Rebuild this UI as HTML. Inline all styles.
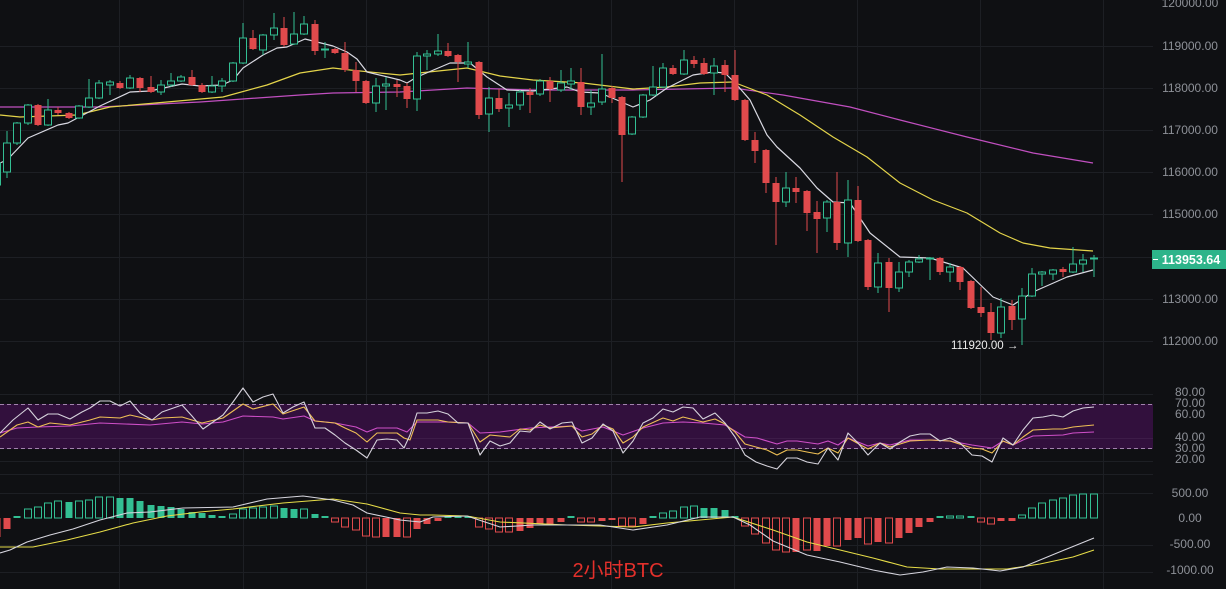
<!DOCTYPE html>
<html><head><meta charset="utf-8"><style>
html,body{margin:0;padding:0;background:#0f1013;}
svg{display:block;}
text{font-family:"Liberation Sans","Noto Sans CJK SC",sans-serif;}
</style></head><body>
<svg width="1226" height="589" viewBox="0 0 1226 589" xmlns="http://www.w3.org/2000/svg">
<rect x="0" y="0" width="1226" height="589" fill="#0f1013"/>
<!-- grid -->
<g stroke="#1d1f24" stroke-width="1">
<path d="M0 46.5H1153M0 88.5H1153M0 130.5H1153M0 172.5H1153M0 214.5H1153M0 257.5H1153M0 299.5H1153M0 341.5H1153"/>
<path d="M0 394.5H1153M0 438.5H1153M0 461.5H1153M0 474.5H1153M0 493.5H1153M0 545.5H1153M0 572.5H1153"/>
<path d="M119.5 0V589M243.5 0V589M366.5 0V589M488.5 0V589M611.5 0V589M734.5 0V589M857.5 0V589M980.5 0V589M1103.5 0V589"/>
</g>
<!-- RSI band -->
<rect x="0" y="404" width="1153" height="45" fill="#32103d"/>
<line x1="0" y1="438.5" x2="1153" y2="438.5" stroke="#3d1c48" stroke-width="1"/>
<g stroke="#a283ad" stroke-width="1" stroke-dasharray="4,3">
<line x1="0" y1="404.5" x2="1153" y2="404.5"/>
<line x1="0" y1="448.5" x2="1153" y2="448.5"/>
</g>

<!-- MA lines -->
<g fill="none" stroke-width="1.2" stroke-linejoin="round">
<polyline stroke="#c14fc0" points="0,107 100,107 200,102 300,95 333,93 400,92 467,88 533,90 633,90 733,88 783,95 850,107 900,120 967,137 1033,153 1093,163"/>
<polyline stroke="#e4d44a" points="0,115 20,117 77,115 110,107 167,102 223,97 267,85 300,73 333,68 350,70 400,75 467,68 500,76 533,80 583,83 633,89 667,87 700,83 733,82 767,95 800,115 833,137 867,157 900,183 933,200 967,213 1000,233 1023,243 1050,248 1093,251"/>
<polyline stroke="#d9d9e2" points="0,163 7,160 28,138 58,125 68,123 100,106 130,92 150,91 182,84 200,86 222,85 233,80 243,68 263,55 277,48 287,47 305,39 333,46 347,52 357,59 367,72 400,80 407,83 417,77 450,63 470,63 487,77 507,90 533,91 567,87 580,92 600,93 617,100 633,107 650,100 667,88 693,75 713,72 725,73 737,85 750,100 767,135 777,147 800,168 817,188 833,202 850,203 870,233 900,257 930,258 963,268 993,297 1013,305 1033,292 1067,277 1093,270"/>
</g>

<!-- candles: green -->
<path fill="none" stroke="#33bf93" stroke-width="1" d="M-3 160V188M7 131V178M17 122V145M28 104V125M48 99V126M79 105V119M89 79V108M99 80V99M110 80V95M130 75V89M161 80V95M171 73V87M181 75V82M212 76V93M222 78V92M233 62V82M243 23V64M263 34V55M274 13V40M294 12V45M304 16V35M325 42V58M376 78V112M386 77V110M417 52V111M427 50V70M438 34V56M468 42V68M489 87V132M509 93V127M520 90V110M540 79V96M561 70V92M571 68V90M591 90V115M602 54V105M632 116V135M643 94V118M653 66V96M663 63V88M684 50V75M714 58V95M786 172V207M827 200V232M848 180V257M878 253V293M899 262V292M909 260V277M919 255V263M930 257V280M950 263V282M1001 298V338M1022 288V345M1032 268V297M1042 271V286M1053 269V280M1073 247V273M1083 254V272M1094 255V277"/>
<g fill="#0f1013" stroke="#33bf93" stroke-width="1">
<rect x="-6.5" y="163" width="7" height="22"/><rect x="3.5" y="143" width="7" height="29"/><rect x="13.5" y="123" width="7" height="20"/><rect x="24.5" y="105" width="7" height="18"/><rect x="44.5" y="110" width="7" height="15"/><rect x="75.5" y="106" width="7" height="12"/><rect x="85.5" y="98" width="7" height="9"/><rect x="95.5" y="83" width="7" height="15"/><rect x="106.5" y="82" width="7" height="3"/><rect x="126.5" y="78" width="7" height="10"/><rect x="157.5" y="85" width="7" height="7"/><rect x="167.5" y="81" width="7" height="4"/><rect x="177.5" y="77" width="7" height="4"/><rect x="208.5" y="86" width="7" height="6"/><rect x="218.5" y="81" width="7" height="5"/><rect x="229.5" y="63" width="7" height="18"/><rect x="239.5" y="38" width="7" height="25"/><rect x="259.5" y="35" width="7" height="15"/><rect x="270.5" y="28" width="7" height="7"/><rect x="290.5" y="34" width="7" height="10"/><rect x="300.5" y="24" width="7" height="10"/><rect x="321.5" y="49" width="7" height="1"/><rect x="372.5" y="86" width="7" height="17"/><rect x="382.5" y="84" width="7" height="2"/><rect x="413.5" y="56" width="7" height="43"/><rect x="423.5" y="54" width="7" height="2"/><rect x="434.5" y="51" width="7" height="3"/><rect x="464.5" y="62" width="7" height="2"/><rect x="485.5" y="98" width="7" height="16"/><rect x="505.5" y="105" width="7" height="3"/><rect x="516.5" y="92" width="7" height="13"/><rect x="536.5" y="81" width="7" height="13"/><rect x="557.5" y="83" width="7" height="7"/><rect x="567.5" y="81" width="7" height="3"/><rect x="587.5" y="103" width="7" height="4"/><rect x="598.5" y="89" width="7" height="13"/><rect x="628.5" y="117" width="7" height="17"/><rect x="639.5" y="95" width="7" height="22"/><rect x="649.5" y="87" width="7" height="8"/><rect x="659.5" y="68" width="7" height="19"/><rect x="680.5" y="60" width="7" height="14"/><rect x="710.5" y="66" width="7" height="7"/><rect x="782.5" y="188" width="7" height="14"/><rect x="823.5" y="202" width="7" height="16"/><rect x="844.5" y="200" width="7" height="43"/><rect x="874.5" y="263" width="7" height="24"/><rect x="895.5" y="272" width="7" height="16"/><rect x="905.5" y="262" width="7" height="10"/><rect x="915.5" y="259" width="7" height="3"/><rect x="926.5" y="258" width="7" height="1"/><rect x="946.5" y="267" width="7" height="5"/><rect x="997.5" y="307" width="7" height="26"/><rect x="1018.5" y="296" width="7" height="23"/><rect x="1028.5" y="274" width="7" height="22"/><rect x="1038.5" y="272" width="7" height="2"/><rect x="1049.5" y="270" width="7" height="4"/><rect x="1069.5" y="264" width="7" height="8"/><rect x="1079.5" y="260" width="7" height="4"/><rect x="1090.5" y="258" width="7" height="1"/>
</g>
<!-- candles: red -->
<path fill="none" stroke="#e04a4c" stroke-width="1" d="M38 104V126M58 107V115M69 112V119M120 81V89M140 77V92M151 76V93M192 70V86M202 83V93M253 30V50M284 17V47M315 20V55M335 48V54M345 42V72M356 62V92M366 80V104M397 80V97M407 83V108M448 43V57M458 54V82M479 61V119M499 89V112M530 88V113M550 77V102M581 68V115M612 86V103M622 96V182M673 65V75M694 56V68M704 58V75M725 60V92M735 50V101M745 99V141M755 132V163M766 149V193M776 177V245M796 177V203M807 190V231M817 201V253M837 172V250M858 186V242M868 239V290M889 258V312M940 257V275M960 266V290M971 280V309M981 287V317M991 303V340M1012 300V330M1063 267V277"/>
<g fill="#e04a4c">
<rect x="34.5" y="105" width="7" height="20"/><rect x="54.5" y="110" width="7" height="3"/><rect x="65.5" y="113" width="7" height="5"/><rect x="116.5" y="83" width="7" height="5"/><rect x="136.5" y="78" width="7" height="10"/><rect x="147.5" y="87" width="7" height="5"/><rect x="188.5" y="77" width="7" height="8"/><rect x="198.5" y="85" width="7" height="7"/><rect x="249.5" y="38" width="7" height="11"/><rect x="280.5" y="28" width="7" height="17"/><rect x="311.5" y="24" width="7" height="27"/><rect x="331.5" y="49" width="7" height="4"/><rect x="341.5" y="53" width="7" height="17"/><rect x="352.5" y="70" width="7" height="11"/><rect x="362.5" y="81" width="7" height="22"/><rect x="393.5" y="84" width="7" height="3"/><rect x="403.5" y="86" width="7" height="13"/><rect x="444.5" y="51" width="7" height="5"/><rect x="454.5" y="55" width="7" height="7"/><rect x="475.5" y="62" width="7" height="53"/><rect x="495.5" y="98" width="7" height="11"/><rect x="526.5" y="92" width="7" height="3"/><rect x="546.5" y="81" width="7" height="8"/><rect x="577.5" y="82" width="7" height="25"/><rect x="608.5" y="88" width="7" height="10"/><rect x="618.5" y="97" width="7" height="38"/><rect x="669.5" y="68" width="7" height="6"/><rect x="690.5" y="60" width="7" height="4"/><rect x="700.5" y="63" width="7" height="11"/><rect x="721.5" y="65" width="7" height="10"/><rect x="731.5" y="75" width="7" height="25"/><rect x="741.5" y="100" width="7" height="40"/><rect x="751.5" y="140" width="7" height="11"/><rect x="762.5" y="150" width="7" height="33"/><rect x="772.5" y="183" width="7" height="19"/><rect x="792.5" y="188" width="7" height="4"/><rect x="803.5" y="191" width="7" height="22"/><rect x="813.5" y="212" width="7" height="7"/><rect x="833.5" y="202" width="7" height="41"/><rect x="854.5" y="200" width="7" height="41"/><rect x="864.5" y="240" width="7" height="47"/><rect x="885.5" y="262" width="7" height="26"/><rect x="936.5" y="258" width="7" height="14"/><rect x="956.5" y="267" width="7" height="15"/><rect x="967.5" y="281" width="7" height="27"/><rect x="977.5" y="307" width="7" height="6"/><rect x="987.5" y="312" width="7" height="21"/><rect x="1008.5" y="306" width="7" height="14"/><rect x="1059.5" y="269" width="7" height="3"/>
</g>

<!-- low annotation -->
<text x="951" y="349" font-size="11.5" fill="#eeeeee">111920.00 →</text>

<!-- RSI lines -->
<g fill="none" stroke-width="1.1" stroke-linejoin="round">
<polyline stroke="#cf4fc8" points="0,433 17,428 38,427 70,426 100,423 150,425 182,422 202,424 223,422 243,416 273,417 283,419 304,416 315,421 335,423 356,427 367,432 377,428 397,428 407,432 417,422 448,422 468,423 480,433 500,432 530,428 550,427 572,426 582,431 603,427 623,435 643,428 663,423 683,422 703,423 725,425 745,437 757,438 777,444 787,441 797,441 818,444 828,441 838,445 848,438 868,446 880,443 890,445 910,440 930,440 950,441 972,445 992,448 1003,441 1013,445 1023,440 1033,436 1063,435 1073,433 1094,432"/>
<polyline stroke="#efc055" points="0,437 17,425 28,422 38,427 50,423 70,425 90,420 100,417 120,418 130,415 152,420 162,418 182,417 202,423 223,418 243,404 253,409 273,404 283,414 304,407 315,421 335,423 345,428 356,433 367,442 377,433 397,433 404,438 410,440 417,420 438,420 448,422 468,423 480,442 490,435 510,437 520,429 530,430 540,425 550,428 572,426 582,437 592,434 603,425 613,429 623,443 633,437 643,427 663,418 673,421 683,417 703,422 715,419 725,424 735,432 745,444 756,447 767,450 777,455 787,450 797,450 807,452 818,454 828,448 838,453 848,438 868,449 880,443 890,447 910,441 930,440 950,441 972,448 982,449 992,453 1003,441 1013,445 1023,437 1033,430 1053,429 1063,429 1073,427 1083,426 1094,425"/>
<polyline stroke="#d6d3dc" points="0,433 13,420 28,408 38,420 48,414 58,414 70,419 82,412 90,408 100,401 110,401 120,406 130,401 140,413 152,420 162,412 182,405 192,416 203,429 213,422 223,415 233,402 243,388 253,402 263,397 273,394 283,413 293,407 304,402 315,428 325,428 335,435 345,443 356,450 367,458 377,440 387,439 397,440 404,448 410,435 417,413 427,413 438,411 448,414 458,423 468,423 480,455 490,441 500,446 510,443 520,431 530,432 540,422 550,429 562,423 572,422 582,443 592,438 603,424 613,431 623,453 633,441 643,423 653,418 663,409 673,412 683,407 693,408 703,419 715,413 725,423 735,437 745,455 756,462 767,466 777,469 787,458 797,458 807,462 818,464 828,448 838,460 848,433 858,443 868,455 880,443 890,449 900,442 910,436 920,434 930,434 940,441 950,438 960,443 972,455 982,456 992,462 1003,438 1013,445 1023,430 1033,418 1043,417 1053,415 1063,417 1073,411 1083,408 1094,407"/>
</g>

<!-- MACD histogram green -->
<g fill="#33bf93">
<rect x="13.5" y="516" width="7" height="2"/><rect x="65.5" y="502" width="7" height="16"/><rect x="116.5" y="498" width="7" height="20"/><rect x="126.5" y="498" width="7" height="20"/><rect x="136.5" y="501" width="7" height="17"/><rect x="147.5" y="505" width="7" height="13"/><rect x="157.5" y="506" width="7" height="12"/><rect x="167.5" y="507" width="7" height="11"/><rect x="177.5" y="509" width="7" height="9"/><rect x="188.5" y="512" width="7" height="6"/><rect x="198.5" y="513" width="7" height="5"/><rect x="208.5" y="515" width="7" height="3"/><rect x="218.5" y="516" width="7" height="2"/><rect x="280.5" y="508" width="7" height="10"/><rect x="290.5" y="509" width="7" height="9"/><rect x="311.5" y="514" width="7" height="4"/><rect x="321.5" y="516" width="7" height="2"/><rect x="444.5" y="516" width="7" height="2"/><rect x="454.5" y="516" width="7" height="2"/><rect x="464.5" y="516" width="7" height="2"/><rect x="567.5" y="516" width="7" height="2"/><rect x="649.5" y="516" width="7" height="2"/><rect x="700.5" y="508" width="7" height="10"/><rect x="710.5" y="508" width="7" height="10"/><rect x="721.5" y="510" width="7" height="8"/><rect x="731.5" y="516" width="7" height="2"/><rect x="936.5" y="516" width="7" height="2"/><rect x="967.5" y="516" width="7" height="2"/>
</g>
<g fill="none" stroke="#33bf93" stroke-width="1">
<rect x="24.5" y="509" width="7" height="9"/><rect x="34.5" y="507" width="7" height="11"/><rect x="44.5" y="503" width="7" height="15"/><rect x="54.5" y="501" width="7" height="17"/><rect x="75.5" y="501" width="7" height="17"/><rect x="85.5" y="500" width="7" height="18"/><rect x="95.5" y="497" width="7" height="21"/><rect x="106.5" y="497" width="7" height="21"/><rect x="229.5" y="514" width="7" height="4"/><rect x="239.5" y="509" width="7" height="9"/><rect x="249.5" y="508" width="7" height="10"/><rect x="259.5" y="507" width="7" height="11"/><rect x="270.5" y="506" width="7" height="12"/><rect x="300.5" y="509" width="7" height="9"/><rect x="659.5" y="513" width="7" height="5"/><rect x="669.5" y="511" width="7" height="7"/><rect x="680.5" y="507" width="7" height="11"/><rect x="690.5" y="506" width="7" height="12"/><rect x="946.5" y="516" width="7" height="2"/><rect x="956.5" y="516" width="7" height="2"/><rect x="1018.5" y="515" width="7" height="3"/><rect x="1028.5" y="508" width="7" height="10"/><rect x="1038.5" y="503" width="7" height="15"/><rect x="1049.5" y="500" width="7" height="18"/><rect x="1059.5" y="498" width="7" height="20"/><rect x="1069.5" y="495" width="7" height="23"/><rect x="1079.5" y="494" width="7" height="24"/><rect x="1090.5" y="494" width="7" height="24"/>
</g>
<!-- MACD histogram red -->
<g fill="#e04a4c">
<rect x="-6.5" y="518" width="7" height="19"/><rect x="3.5" y="518" width="7" height="11"/><rect x="382.5" y="518" width="7" height="19"/><rect x="393.5" y="518" width="7" height="19"/><rect x="413.5" y="518" width="7" height="11"/><rect x="423.5" y="518" width="7" height="6"/><rect x="434.5" y="518" width="7" height="3"/><rect x="516.5" y="518" width="7" height="13"/><rect x="526.5" y="518" width="7" height="10"/><rect x="536.5" y="518" width="7" height="6"/><rect x="546.5" y="518" width="7" height="6"/><rect x="557.5" y="518" width="7" height="4"/><rect x="598.5" y="518" width="7" height="3"/><rect x="608.5" y="518" width="7" height="2"/><rect x="639.5" y="518" width="7" height="6"/><rect x="792.5" y="518" width="7" height="34"/><rect x="813.5" y="518" width="7" height="33"/><rect x="823.5" y="518" width="7" height="28"/><rect x="844.5" y="518" width="7" height="22"/><rect x="854.5" y="518" width="7" height="20"/><rect x="874.5" y="518" width="7" height="24"/><rect x="895.5" y="518" width="7" height="20"/><rect x="905.5" y="518" width="7" height="15"/><rect x="915.5" y="518" width="7" height="9"/><rect x="926.5" y="518" width="7" height="4"/><rect x="997.5" y="518" width="7" height="3"/><rect x="1008.5" y="518" width="7" height="3"/>
</g>
<g fill="none" stroke="#e04a4c" stroke-width="1">
<rect x="331.5" y="518" width="7" height="4"/><rect x="341.5" y="518" width="7" height="9"/><rect x="352.5" y="518" width="7" height="12"/><rect x="362.5" y="518" width="7" height="18"/><rect x="372.5" y="518" width="7" height="19"/><rect x="403.5" y="518" width="7" height="19"/><rect x="475.5" y="518" width="7" height="9"/><rect x="485.5" y="518" width="7" height="11"/><rect x="495.5" y="518" width="7" height="14"/><rect x="505.5" y="518" width="7" height="14"/><rect x="577.5" y="518" width="7" height="4"/><rect x="587.5" y="518" width="7" height="4"/><rect x="618.5" y="518" width="7" height="8"/><rect x="628.5" y="518" width="7" height="8"/><rect x="741.5" y="518" width="7" height="8"/><rect x="751.5" y="518" width="7" height="16"/><rect x="762.5" y="518" width="7" height="25"/><rect x="772.5" y="518" width="7" height="32"/><rect x="782.5" y="518" width="7" height="34"/><rect x="803.5" y="518" width="7" height="32"/><rect x="833.5" y="518" width="7" height="28"/><rect x="864.5" y="518" width="7" height="26"/><rect x="885.5" y="518" width="7" height="25"/><rect x="977.5" y="518" width="7" height="4"/><rect x="987.5" y="518" width="7" height="6"/>
</g>

<!-- MACD lines -->
<g fill="none" stroke-width="1.1" stroke-linejoin="round">
<polyline stroke="#e6dc48" points="0,547 33,547 67,540 100,532 133,523 167,516 200,512 233,509 283,503 333,499 367,504 400,513 420,515 433,515 467,516 500,522 567,525 633,527 667,523 700,520 733,517 773,530 807,542 840,550 873,558 907,567 940,569 1007,569 1040,564 1073,557 1094,550"/>
<polyline stroke="#d6d5de" points="0,553 10,550 27,542 50,535 73,529 100,520 127,513 150,512 183,508 233,507 267,499 303,496 333,500 353,505 367,513 400,520 420,522 433,517 467,516 500,527 533,525 600,525 633,530 667,525 700,517 733,517 750,525 773,541 807,555 840,562 873,570 900,575 923,572 947,567 973,568 1000,571 1023,567 1057,553 1094,538"/>
</g>

<!-- axis labels -->
<g font-size="12" fill="#8e9198" text-anchor="middle">
<text x="1190" y="7">120000.00</text>
<text x="1190" y="50">119000.00</text>
<text x="1190" y="92">118000.00</text>
<text x="1190" y="134">117000.00</text>
<text x="1190" y="176">116000.00</text>
<text x="1190" y="218">115000.00</text>
<text x="1190" y="303">113000.00</text>
<text x="1190" y="345">112000.00</text>
<text x="1190" y="396">80.00</text>
<text x="1190" y="407">70.00</text>
<text x="1190" y="418">60.00</text>
<text x="1190" y="441">40.00</text>
<text x="1190" y="452">30.00</text>
<text x="1190" y="463">20.00</text>
<text x="1190" y="497">500.00</text>
<text x="1190" y="522">0.00</text>
<text x="1190" y="548">-500.00</text>
<text x="1190" y="574">-1000.00</text>
</g>
<rect x="1152" y="250" width="74" height="19" fill="#2db48a"/>
<line x1="1153" y1="259.5" x2="1158" y2="259.5" stroke="#ffffff" stroke-width="1"/>
<text x="1191" y="264" font-size="12.5" font-weight="bold" fill="#ffffff" text-anchor="middle">113953.64</text>

<!-- title -->
<text x="618" y="577" font-size="20" fill="#e3302b" text-anchor="middle" font-family="'Liberation Sans','Noto Sans CJK SC',sans-serif">2小时BTC</text>
</svg>
</body></html>
